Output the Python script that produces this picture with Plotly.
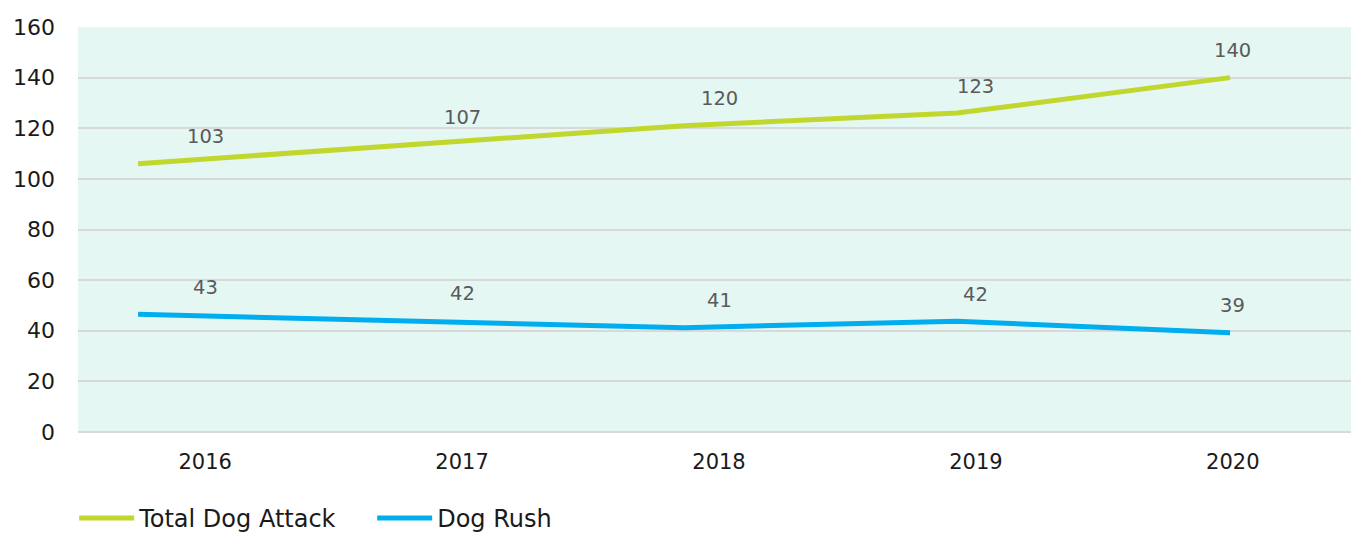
import plotly.graph_objects as go

years = ["2016", "2017", "2018", "2019", "2020"]
total_attack = [106, 113.5, 121, 126, 140]
dog_rush = [46.5, 44, 41.2, 43.8, 39.2]
total_attack_labels = ["103", "107", "120", "123", "140"]
dog_rush_labels = ["43", "42", "41", "42", "39"]
y_ticks = [0, 20, 40, 60, 80, 100, 120, 140, 160]

GREEN = "#C1D72E"
BLUE = "#00AEEF"
FONT = "DejaVu Sans"

idx = list(range(len(years)))

fig = go.Figure()
fig.add_trace(go.Scatter(x=idx, y=total_attack, mode="lines", name="Total Dog Attack",
                         line=dict(color=GREEN, width=5), xaxis="x2", yaxis="y"))
fig.add_trace(go.Scatter(x=idx, y=dog_rush, mode="lines", name="Dog Rush",
                         line=dict(color=BLUE, width=5), xaxis="x2", yaxis="y"))

annotations = []
for series, labels in ((total_attack, total_attack_labels), (dog_rush, dog_rush_labels)):
    for i, (v, t) in enumerate(zip(series, labels)):
        annotations.append(dict(x=i, y=v, xref="x", yref="y", text=t, showarrow=False,
                                yanchor="middle", yshift=27,
                                font=dict(family=FONT, size=19.5, color="#5a5a5a")))

fig.update_layout(
    width=1351, height=534,
    margin=dict(l=78, r=0, t=27, b=102, autoexpand=False),
    paper_bgcolor="white",
    plot_bgcolor="#E4F7F3",
    font=dict(family=FONT, size=22, color="#1a1a1a"),
    xaxis=dict(range=[-0.495, 4.46], tickvals=idx, ticktext=years, showgrid=False,
               zeroline=False, showline=False, ticks="", ticklabelstandoff=15,
               tickfont=dict(size=21, color="#1a1a1a")),
    xaxis2=dict(range=[-0.22, 4.443], overlaying="x", visible=False),
    yaxis=dict(range=[0, 160], tickvals=y_ticks, showgrid=True, gridcolor="#D9D9D9",
               gridwidth=2, zeroline=True, zerolinecolor="#D9D9D9", zerolinewidth=2,
               showline=False, ticks="", ticklabelstandoff=22,
               tickfont=dict(size=22, color="#1a1a1a")),
    legend=dict(orientation="h", xref="paper", x=-0.003, xanchor="left",
                yref="container", y=0.0712, yanchor="top",
                font=dict(family=FONT, size=24, color="#1a1a1a"), itemwidth=55,
                entrywidth=228, entrywidthmode="pixels",
                bgcolor="rgba(0,0,0,0)"),
    annotations=annotations,
    showlegend=True,
)

fig.write_html(
    "out.html",
    config={"displayModeBar": False},
    post_script="document.body.style.margin='0';document.body.style.overflow='hidden';",
)
